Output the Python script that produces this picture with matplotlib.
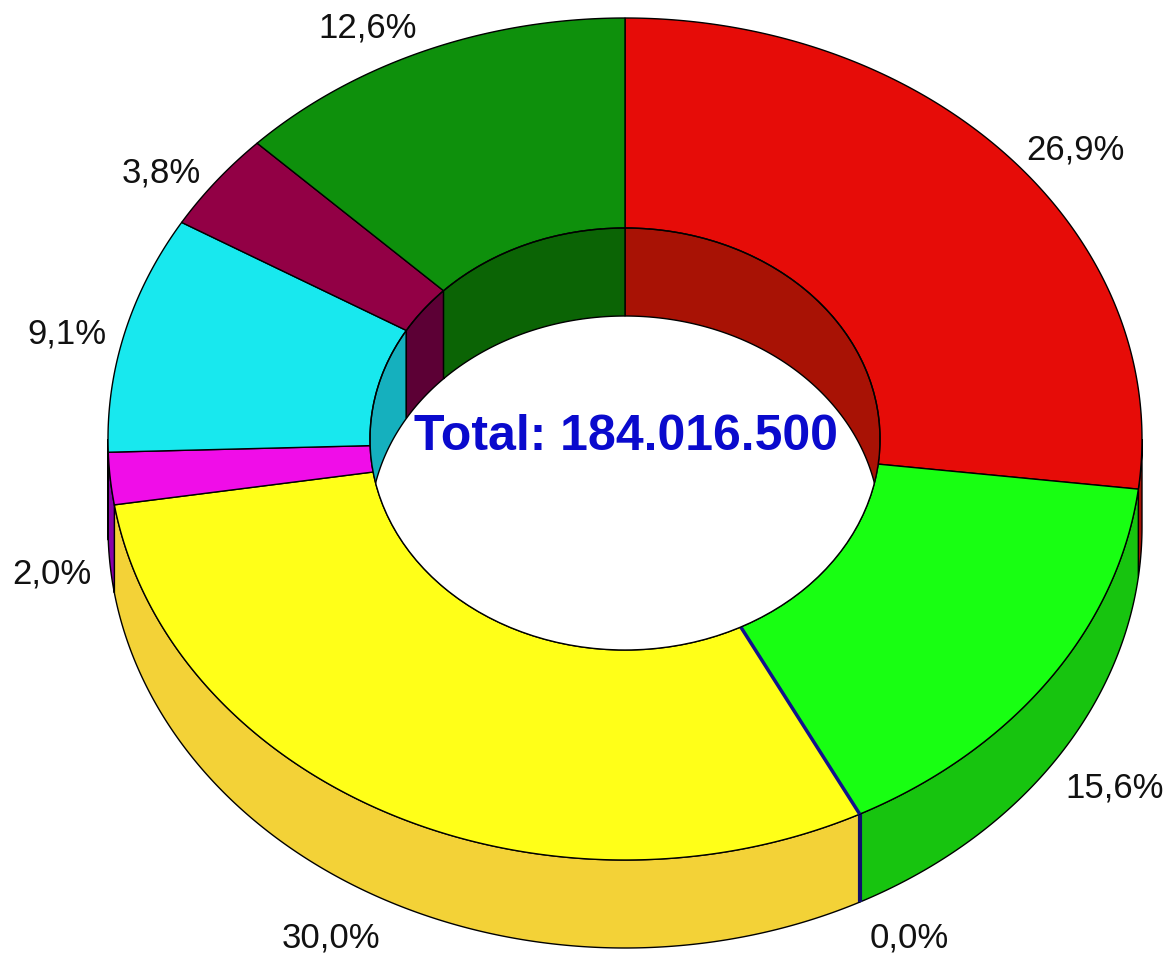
import numpy as np
import matplotlib
matplotlib.use("Agg")
import matplotlib.pyplot as plt
from matplotlib.patches import Polygon, Ellipse

shares = [26.9, 15.6, 0.0, 30.0, 2.0, 9.1, 3.8, 12.6]
labels = ["26,9%", "15,6%", "0,0%", "30,0%", "2,0%", "9,1%", "3,8%", "12,6%"]
top_colors = ["#E60C08", "#18FF12", "#10108C", "#FFFF18", "#F00DE8", "#18E8EE", "#920045", "#0E900C"]
side_colors = ["#A81205", "#17C40F", "#10106C", "#F3D237", "#8A00A8", "#15B0BE", "#5C0035", "#0B6405"]
total_text = "Total: 184.016.500"

# donut geometry, in pixels of the picture
cx, cy = 625, 439
rx, ry = 517, 421
inner_rx, inner_ry = 255, 211
depth = 88


def arc(a0, a1, w, h, shift=0.0):
    t = np.radians(np.linspace(a0, a1, max(int(abs(a1 - a0) * 3), 2)))
    return np.column_stack([cx + w * np.cos(t), cy - h * np.sin(t) + shift])


fig = plt.figure(figsize=(11.69, 9.59), dpi=100)
ax = fig.add_axes([0, 0, 1, 1])
ax.set_xlim(0, 1169)
ax.set_ylim(959, 0)
ax.axis("off")

# angles go clockwise from twelve o'clock
edges = 90 - 3.6 * np.cumsum([0] + shares)
spans = list(zip(edges[:-1], edges[1:]))

# outer wall, only the front part is seen
for (a0, a1), c in zip(spans, side_colors):
    if a0 == a1:
        x, y = arc(a0, a0, rx, ry)[0]
        ax.plot([x, x], [y, y + depth], color=c, lw=3, zorder=2.5, solid_capstyle="butt")
        continue
    lo, hi = min(a0, 0), max(a1, -180)
    if lo <= hi:
        continue
    pts = np.vstack([arc(lo, hi, rx, ry), arc(hi, lo, rx, ry, depth)])
    ax.add_patch(Polygon(pts, closed=True, fc=c, ec="black", lw=1, zorder=2))

# top surface
for (a0, a1), c in zip(spans, top_colors):
    if a0 == a1:
        # 0,0% slice is only a dark line across the ring
        line = np.vstack([arc(a0, a0, inner_rx, inner_ry)[:1], arc(a0, a0, rx, ry)[:1]])
        ax.plot(line[:, 0], line[:, 1], color=c, lw=2.5, zorder=4, solid_capstyle="butt")
        continue
    pts = np.vstack([arc(a0, a1, rx, ry), arc(a1, a0, inner_rx, inner_ry)])
    ax.add_patch(Polygon(pts, closed=True, fc=c, ec="black", lw=1, zorder=3))

# hole with the inner wall seen through it
hole = Ellipse((cx, cy), 2 * inner_rx, 2 * inner_ry, fc="white", ec="none", zorder=4)
ax.add_patch(hole)
for (a0, a1), c in zip(spans, side_colors):
    # back half is 0..180, the left slices come round past -180
    for off in (0, 360):
        lo, hi = min(a0 + off, 180), max(a1 + off, 0)
        if lo <= hi:
            continue
        pts = np.vstack([arc(lo, hi, inner_rx, inner_ry), arc(hi, lo, inner_rx, inner_ry, depth)])
        p = Polygon(pts, closed=True, fc=c, ec="black", lw=1, zorder=5)
        ax.add_patch(p)
        p.set_clip_path(hole)
ax.add_patch(Ellipse((cx, cy), 2 * inner_rx, 2 * inner_ry, fc="none", ec="black", lw=1, zorder=6))

# percent labels sit just outside the rim at the middle of each slice
for (a0, a1), s in zip(spans, labels):
    m = np.radians((a0 + a1) / 2)
    c, v = np.cos(m), np.sin(m)
    x = cx + rx * c + np.sign(c) * (3 + 16 * abs(c))
    y = cy - ry * v + (depth - 6 * v if v < 0 else 0) + 5 - 14 * v - 19 * v ** 3
    ax.text(x, y, s, ha="left" if c > 0 else "right", va="center", fontsize=25,
            family="Liberation Sans", color="#111111", zorder=7)

ax.text(cx + 1, 437, total_text, ha="center", va="center", fontsize=36, fontweight="bold",
        family="Liberation Sans", color="#0A0ACD", zorder=8)

fig.savefig("out.png", dpi=100)
